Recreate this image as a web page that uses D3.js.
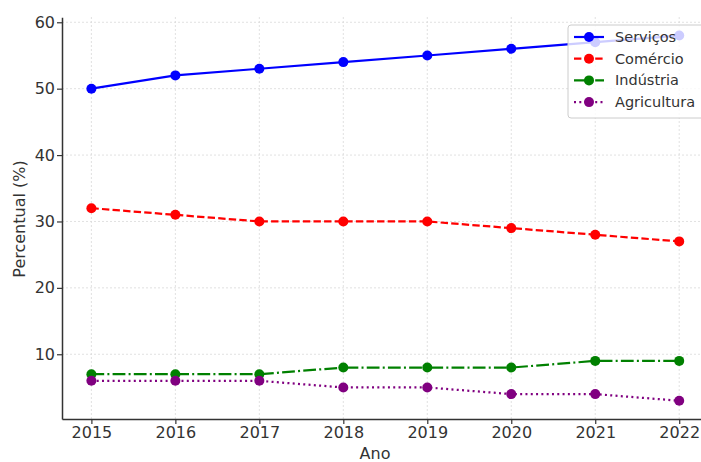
<!DOCTYPE html>
<html><head><meta charset="utf-8">
<script src="https://cdn.jsdelivr.net/npm/d3@7"></script>
<style>body{margin:0;background:#fff}svg{display:block}text{font-family:"DejaVu Sans",sans-serif}</style>
</head><body><svg id="c" width="701" height="462"></svg>
<script>
const years = [2015, 2016, 2017, 2018, 2019, 2020, 2021, 2022];
const servicos = [50, 52, 53, 54, 55, 56, 57, 58];
const comercio = [32, 31, 30, 30, 30, 29, 28, 27];
const industria = [7, 7, 7, 8, 8, 8, 9, 9];
const agricultura = [6, 6, 6, 5, 5, 4, 4, 3];
const yTicks = [10, 20, 30, 40, 50, 60];
const seriesNames = ["Serviços", "Comércio", "Indústria", "Agricultura"];

const series = [
  {name: seriesNames[0], values: servicos, color: "#0000ff", dash: null},
  {name: seriesNames[1], values: comercio, color: "#ff0000", dash: "7.4,3.2"},
  {name: seriesNames[2], values: industria, color: "#008000", dash: "12.8,3.2,2,3.2"},
  {name: seriesNames[3], values: agricultura, color: "#800080", dash: "2,3.3"}
];

const svg = d3.select("#c");
const x = d3.scaleLinear().domain([2014.65, 2022.35]).range([62, 708.6]);
const y = d3.scaleLinear().domain([0.25, 60.75]).range([419, 17.3]);

// grid
const g = svg.append("g");
g.selectAll(".gx").data(years).join("line")
  .attr("x1", d => x(d)).attr("x2", d => x(d)).attr("y1", 17).attr("y2", 419)
  .attr("stroke", "#d9d9d9").attr("stroke-width", 0.8).attr("stroke-dasharray", "2,2");
g.selectAll(".gy").data(yTicks).join("line")
  .attr("x1", 62).attr("x2", 701).attr("y1", d => y(d)).attr("y2", d => y(d))
  .attr("stroke", "#d9d9d9").attr("stroke-width", 0.8).attr("stroke-dasharray", "2,2");

// axes
const xAxis = svg.append("g").attr("transform", "translate(0,419)")
  .call(d3.axisBottom(x).tickValues(years).tickFormat(d3.format("d")).tickSize(5).tickSizeOuter(0));
const yAxis = svg.append("g").attr("transform", "translate(62,0)")
  .call(d3.axisLeft(y).tickValues(yTicks).tickSize(5).tickSizeOuter(0));
[xAxis, yAxis].forEach(a => {
  a.select(".domain").attr("stroke", "#333").attr("stroke-width", 1.5);
  a.selectAll(".tick line").attr("stroke", "#333").attr("stroke-width", 1.2);
  a.selectAll(".tick text").attr("fill", "#333").attr("font-size", 16).attr("font-family", "DejaVu Sans");
});
yAxis.selectAll(".tick text").attr("x", -7);

svg.append("text").attr("x", 375).attr("y", 459).attr("text-anchor", "middle")
  .attr("font-size", 16).attr("fill", "#333").text("Ano");
svg.append("text").attr("transform", "translate(25,219) rotate(-90)").attr("text-anchor", "middle")
  .attr("font-size", 16).attr("fill", "#333").text("Percentual (%)");

// lines
const line = d3.line().x((d, i) => x(years[i])).y(d => y(d));
series.forEach(s => {
  svg.append("path").datum(s.values).attr("d", line).attr("fill", "none")
    .attr("stroke", s.color).attr("stroke-width", 2.2)
    .attr("stroke-dasharray", s.dash);
  svg.selectAll(null).data(s.values).join("circle")
    .attr("cx", (d, i) => x(years[i])).attr("cy", d => y(d)).attr("r", 5)
    .attr("fill", s.color);
});

// legend
const lg = svg.append("g");
lg.append("rect").attr("x", 568).attr("y", 25).attr("width", 140).attr("height", 93).attr("rx", 3)
  .attr("fill", "#fff").attr("fill-opacity", 0.8).attr("stroke", "#ccc").attr("stroke-width", 1);
series.forEach((s, i) => {
  const yy = 37 + i * 21.7;
  lg.append("line").attr("x1", 574).attr("x2", 604).attr("y1", yy).attr("y2", yy)
    .attr("stroke", s.color).attr("stroke-width", 2.2).attr("stroke-dasharray", s.dash);
  lg.append("circle").attr("cx", 589).attr("cy", yy).attr("r", 5).attr("fill", s.color);
  lg.append("text").attr("x", 615).attr("y", yy).attr("dy", "0.35em")
    .attr("font-size", 14.5).attr("fill", "#333").text(s.name);
});
</script></body></html>
